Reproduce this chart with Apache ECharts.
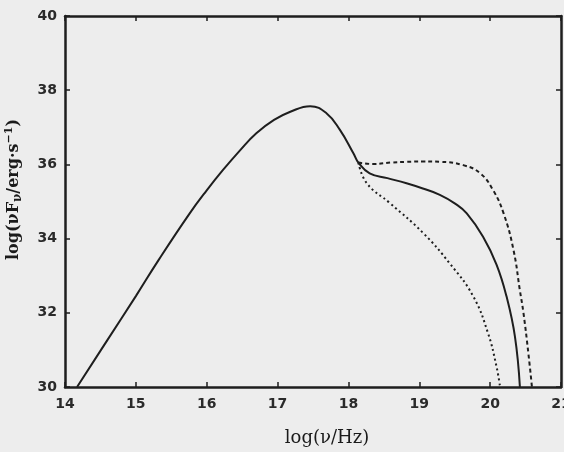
<!DOCTYPE html>
<html><head><meta charset="utf-8">
<script src="https://cdn.jsdelivr.net/npm/echarts@6/dist/echarts.min.js"></script>
<style>html,body{margin:0;padding:0;background:#ededed;}#c{width:564px;height:452px;}</style>
</head><body><div id="c"></div>
<script>
const xTicks = [14, 15, 16, 17, 18, 19, 20, 21];
const yTicks = [30, 32, 34, 36, 38, 40];

const solidX = [14.17, 14.6, 15.0, 15.32, 15.76, 16.0, 16.23, 16.47, 16.70, 16.95, 17.18, 17.46, 17.69, 17.88, 18.07, 18.14, 18.30, 18.55, 18.82, 19.05, 19.29, 19.5, 19.67, 19.90, 20.09, 20.23, 20.35, 20.42];
const solidY = [30, 31.27, 32.45, 33.42, 34.68, 35.3, 35.85, 36.38, 36.84, 37.2, 37.42, 37.57, 37.38, 36.93, 36.30, 36.05, 35.76, 35.63, 35.49, 35.35, 35.18, 34.95, 34.68, 34.05, 33.3, 32.45, 31.36, 30];

const dashedX = [18.14, 18.35, 18.6, 18.82, 19.05, 19.29, 19.62, 19.86, 20.04, 20.19, 20.33, 20.42, 20.47, 20.54, 20.59];
const dashedY = [36.05, 36.01, 36.05, 36.07, 36.08, 36.07, 35.98, 35.76, 35.31, 34.68, 33.69, 32.6, 32.0, 30.9, 30];

const dottedX = [18.14, 18.26, 18.59, 19.06, 19.43, 19.76, 19.97, 20.09, 20.14];
const dottedY = [36.05, 35.49, 34.95, 34.14, 33.33, 32.45, 31.45, 30.55, 30];

const pairs = (xs, ys) => xs.map((x, i) => [x, ys[i]]);
const ink = '#1e1e1e';
const labelFont = { fontFamily: 'DejaVu Sans', fontWeight: 'bold', fontSize: 14, color: '#2a2a2a' };

const chart = echarts.init(document.getElementById('c'));
const baseX = {
  type: 'value', min: xTicks[0], max: xTicks[xTicks.length - 1], interval: 1,
  splitLine: { show: false },
  axisLine: { show: true, onZero: false, lineStyle: { color: ink, width: 2.5 } },
  axisTick: { show: true, inside: true, length: 5, lineStyle: { color: ink, width: 1.5 } }
};
const baseY = {
  type: 'value', min: yTicks[0], max: yTicks[yTicks.length - 1], interval: 2,
  splitLine: { show: false },
  axisLine: { show: true, onZero: false, lineStyle: { color: ink, width: 2.5 } },
  axisTick: { show: true, inside: true, length: 5, lineStyle: { color: ink, width: 1.5 } }
};
const lineSeries = (xs, ys, type) => ({
  type: 'line', data: pairs(xs, ys), smooth: 0.45, showSymbol: false,
  lineStyle: { color: ink, width: 2, type: type }
});
chart.setOption({
  backgroundColor: '#ededed',
  animation: false,
  grid: { left: 65, right: 3, top: 16, bottom: 65, outerBoundsMode: 'none', containLabel: false },
  xAxis: [
    Object.assign({}, baseX, {
      position: 'bottom',
      axisLabel: Object.assign({ margin: 10 }, labelFont),
      name: 'log(ν/Hz)', nameLocation: 'middle', nameGap: 42,
      nameTextStyle: { fontFamily: 'DejaVu Serif', fontSize: 18, color: '#1a1a1a', padding: [0, 0, 0, 28] }
    }),
    Object.assign({}, baseX, { position: 'top', axisLabel: { show: false } })
  ],
  yAxis: [
    Object.assign({}, baseY, {
      position: 'left',
      axisLabel: Object.assign({ margin: 8 }, labelFont),
      name: '{n|log(νF}{s|ν}{n|/erg·s}{p|−1}{n|)}', nameLocation: 'middle', nameGap: 41,
      nameTextStyle: {
        fontFamily: 'DejaVu Serif', fontSize: 16, color: '#1a1a1a', padding: [0, 0, 0, 24],
        rich: {
          n: { fontFamily: 'DejaVu Serif', fontSize: 16, fontWeight: 'bold', color: '#1a1a1a' },
          s: { fontFamily: 'DejaVu Serif', fontSize: 12, fontWeight: 'bold', color: '#1a1a1a', padding: [7, 0, 0, 0] },
          p: { fontFamily: 'DejaVu Serif', fontSize: 11, fontWeight: 'bold', color: '#1a1a1a', padding: [0, 0, 9, 0] }
        }
      }
    }),
    Object.assign({}, baseY, { position: 'right', axisLabel: { show: false } })
  ],
  series: [
    lineSeries(solidX, solidY, 'solid'),
    lineSeries(dashedX, dashedY, [4, 3]),
    lineSeries(dottedX, dottedY, [2, 3])
  ]
});
</script></body></html>
